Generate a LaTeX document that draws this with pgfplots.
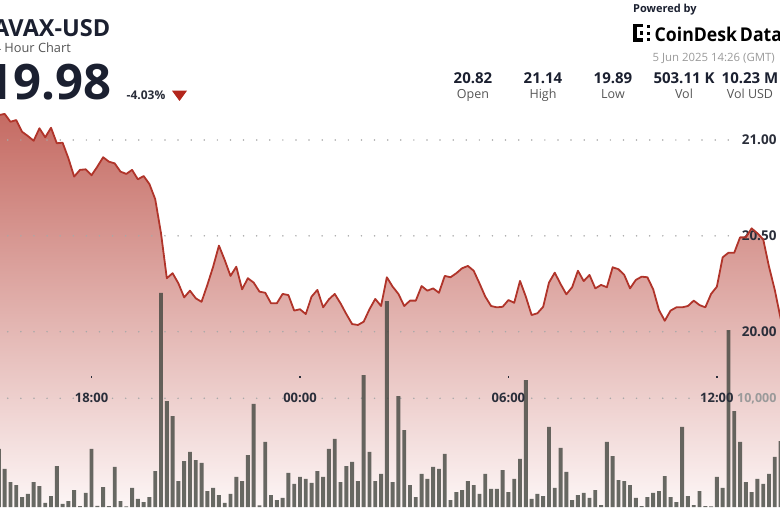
\documentclass[border=0pt]{standalone}
\usepackage{pgfplots}
\pgfplotsset{compat=1.18}
\usepackage{pgfplotstable}
\usepackage{fontspec}
\setmainfont{Open Sans}

\definecolor{inkdark}{HTML}{1B2030}
\definecolor{inkmid}{HTML}{2A2E3A}
\definecolor{subgray}{HTML}{555555}
\definecolor{dategray}{HTML}{9A9A9A}
\definecolor{downred}{HTML}{B3261C}
\definecolor{linered}{HTML}{B0342A}
\definecolor{filltop}{HTML}{C56B63}
\definecolor{fillmid}{HTML}{EAC4C1}
\definecolor{fillbot}{HTML}{FDF6F6}
\definecolor{barfill}{HTML}{3E423B}
\definecolor{griddot}{HTML}{A8A8A8}

% 10-minute candles, index 52 = 00:00
\pgfplotstableread{
i p
0 21.130
1 21.136
2 21.095
3 21.104
4 21.043
5 21.021
6 20.996
7 21.061
8 21.014
9 21.064
10 20.983
11 20.986
12 20.905
13 20.809
14 20.844
15 20.847
16 20.816
17 20.861
18 20.910
19 20.887
20 20.878
21 20.835
22 20.823
23 20.844
24 20.795
25 20.812
26 20.770
27 20.691
28 20.513
29 20.279
30 20.305
31 20.252
32 20.179
33 20.214
34 20.174
35 20.156
36 20.244
37 20.339
38 20.449
39 20.374
40 20.291
41 20.339
42 20.221
43 20.279
44 20.256
45 20.209
46 20.203
47 20.148
48 20.148
49 20.197
50 20.191
51 20.110
52 20.117
53 20.092
54 20.183
55 20.218
56 20.127
57 20.169
58 20.197
59 20.148
60 20.092
61 20.040
62 20.035
63 20.052
64 20.117
65 20.171
66 20.134
67 20.284
68 20.235
69 20.197
70 20.134
71 20.162
72 20.162
73 20.238
74 20.214
75 20.226
76 20.203
77 20.291
78 20.284
79 20.305
80 20.331
81 20.343
82 20.318
83 20.252
84 20.183
85 20.134
86 20.127
87 20.130
88 20.165
89 20.151
90 20.265
91 20.183
92 20.087
93 20.096
94 20.130
95 20.256
96 20.308
97 20.249
98 20.195
99 20.232
100 20.318
101 20.264
102 20.296
103 20.226
104 20.244
105 20.232
106 20.336
107 20.326
108 20.296
109 20.226
110 20.270
111 20.287
112 20.284
113 20.221
114 20.113
115 20.057
116 20.110
117 20.127
118 20.127
119 20.134
120 20.162
121 20.139
122 20.127
123 20.197
124 20.235
125 20.388
126 20.412
127 20.412
128 20.492
129 20.492
130 20.539
131 20.513
132 20.482
133 20.339
134 20.218
135 20.070
136 19.980
}\pricetab

\pgfplotstableread{
i v
0 5340
1 3500
2 2300
3 2020
4 920
5 1200
6 2300
7 1930
8 370
9 1010
10 3770
11 280
12 550
13 1560
14 90
15 1290
16 5340
17 100
18 1840
19 90
20 3680
21 550
22 50
23 1750
24 740
25 460
26 920
27 3310
28 19690
29 9750
30 8370
31 2390
32 4230
33 5060
34 4320
35 4050
36 1470
37 1750
38 1100
39 370
40 1200
41 2760
42 2390
43 4780
44 9480
45 150
46 5980
47 1100
48 640
49 830
50 3130
51 2120
52 2760
53 2580
54 2210
55 3310
56 2760
57 5340
58 6260
59 2300
60 3770
61 4140
62 2390
63 12140
64 5060
65 2390
66 3040
67 18950
68 2300
69 10210
70 7080
71 2020
72 920
73 3040
74 2580
75 3680
76 3500
77 4880
78 640
79 1380
80 1560
81 2390
82 2020
83 1200
84 3040
85 1660
86 1660
87 3400
88 1380
89 2580
90 4420
91 11680
92 740
93 1200
94 1010
95 7360
96 1750
97 5430
98 3220
99 640
100 1100
101 1290
102 830
103 1560
104 180
105 5980
106 4690
107 2480
108 2390
109 2020
110 830
111 90
112 920
113 1290
114 1470
115 2850
116 920
117 460
118 7360
119 1010
120 180
121 1470
122 90
123 50
124 2760
125 1750
126 16280
127 8830
128 5980
129 2300
130 1380
131 2580
132 2120
133 3040
134 4600
135 6070
}\voltab

\tikzset{
  dotgrid/.style={griddot, line width=1.7pt, line cap=round, dash pattern=on 0pt off 13.1pt},
}

\pgfplotsset{
  base/.style={
    scale only axis, width=780pt, height=507pt,
    at={(0,0)}, anchor=south west,
    xmin=0.19, xmax=134.9,
    axis line style={draw=none},
    major tick length=0pt,
  },
  priceaxis/.style={base, ymin=19.0855, ymax=21.7303},
}

\begin{document}
\begin{tikzpicture}[x=1pt, y=1pt]
\path[use as bounding box] (0,0) rectangle (780,507);

% price area
\begin{axis}[priceaxis, xtick=\empty, ytick=\empty]
\addplot[draw=none, top color=filltop, middle color=fillmid, bottom color=fillbot] table[x=i, y=p] {\pricetab} \closedcycle;
\draw[dotgrid] (axis cs:1.53,21) -- (axis cs:126.8,21);
\draw[dotgrid] (axis cs:1.53,20.5) -- (axis cs:126.8,20.5);
\draw[dotgrid] (axis cs:1.53,20) -- (axis cs:126.8,20);
\end{axis}

% volume bars
\begin{axis}[base,
  ymin=0, ymax=46642,
  xtick=\empty,
  ytick={10000}, yticklabels={10{,}000},
  yticklabel pos=right,
  yticklabel style={anchor=east, text=dategray, font=\fontsize{12.5}{12.5}\selectfont\bfseries},
  ybar, bar width=3.9pt,
]
\draw[dotgrid] (axis cs:1.53,10000) -- (axis cs:126.8,10000);
\addplot[fill=barfill, fill opacity=0.78, draw=none] table[x=i, y=v] {\voltab};
\end{axis}

% price line and labels
\begin{axis}[priceaxis,
  ytick={20,20.5,21}, yticklabels={20.00,20.50,21.00},
  yticklabel pos=right,
  yticklabel style={anchor=east, text=inkmid, font=\fontsize{13.5}{13.5}\selectfont\bfseries},
  xtick={16,52,88,124}, xticklabels={18:00,00:00,06:00,12:00},
  xticklabel style={anchor=center, yshift=109.5pt, text=inkmid, font=\fontsize{13}{13}\selectfont\bfseries},
]
\addplot[linered, line width=1.8pt, line join=round] table[x=i, y=p] {\pricetab};
\end{axis}

% tick dots above the time labels
\begin{axis}[priceaxis, ytick=\empty,
  xtick={16,52,88,124},
  xticklabels={\rule{1.7pt}{1.7pt},\rule{1.7pt}{1.7pt},\rule{1.7pt}{1.7pt},\rule{1.7pt}{1.7pt}},
  xticklabel style={anchor=center, yshift=130pt, text=inkmid},
]
\end{axis}

% header
\node[anchor=base east, inner sep=0pt, text=inkdark, font=\fontsize{23.5}{23.5}\selectfont\bfseries] at (110.5,470.3) {AVAX-USD};
\node[anchor=base east, inner sep=0pt, text=subgray, font=\fontsize{12.8}{12.8}\selectfont] at (71,454.7) {24 Hour Chart};
\node[anchor=base east, inner sep=0pt, text=inkdark, font=\fontsize{49}{49}\selectfont\bfseries] at (112,407) {19.98};
\node[anchor=base west, inner sep=0pt, text=inkmid, font=\fontsize{12}{12}\selectfont\bfseries] at (126.5,407) {-4.03\%};
\fill[downred] (172,416.3) -- (187,416.3) -- (179.5,406) -- cycle;

\node[anchor=base west, inner sep=0pt, text=inkdark, font=\fontsize{11}{11}\selectfont\bfseries] at (633,494.3) {Powered by};
% logo mark
\fill[black] (633,465) rectangle (636.5,483);
\fill[black] (633,479.5) rectangle (643,483);
\fill[black] (633,465) rectangle (643,468.5);
\fill[black] (639.5,472) rectangle (643,475.5);
\fill[black] (646.5,478.5) rectangle (649.5,481.5);
\fill[black] (646.5,472.2) rectangle (649.5,475.2);
\fill[black] (646.5,466) rectangle (649.5,469);
\node[anchor=base west, inner sep=0pt, text=black, font=\fontsize{19}{19}\selectfont\bfseries] at (654.5,465.3) {\scalebox{0.93}[1]{CoinDesk\hspace{3pt}Data}};
\node[anchor=base east, inner sep=0pt, text=dategray, font=\fontsize{11.4}{11.4}\selectfont] at (775,445.5) {5 Jun 2025 14:26 (GMT)};

\foreach \xc/\val/\lab in {473/20.82/Open, 543/21.14/High, 613/19.89/Low, 684/503.11 K/Vol, 750/10.23 M/Vol USD}{
  \node[anchor=base, inner sep=0pt, text=inkdark, font=\fontsize{15}{15}\selectfont\bfseries] at (\xc,423.7) {\val};
  \node[anchor=base, inner sep=0pt, text=subgray, font=\fontsize{12.5}{12.5}\selectfont] at (\xc,408) {\lab};
}
\end{tikzpicture}
\end{document}
